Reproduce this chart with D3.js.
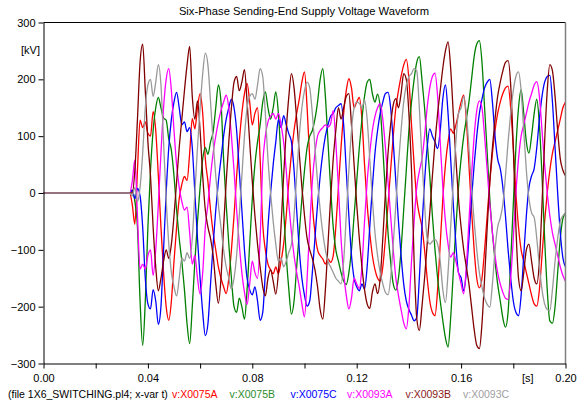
<!DOCTYPE html>
<html>
<head>
<meta charset="utf-8">
<script src="https://cdn.jsdelivr.net/npm/d3@7"></script>
<style>
  body { margin: 0; background: #fff; }
  svg text { font-family: "Liberation Sans", Arial, sans-serif; }
</style>
</head>
<body>
<svg id="chart" width="578" height="401"></svg>
<script>
// Sampled waveforms: one value every millisecond from 33 ms to 200 ms.
// Before switching (t = 0 .. 33 ms) every phase sits at 0 kV.
const tStart = 0.033;
const tStep = 0.001;
const preSwitchValue = 0;

const seriesNames = ["v:X0075A", "v:X0075B", "v:X0075C", "v:X0093A", "v:X0093B", "v:X0093C"];
const seriesColors = ["#ff0000", "#008000", "#0000ff", "#ff00ff", "#800000", "#999999"];
const legendColors = ["#ff0000", "#2e8b2e", "#0000ff", "#ff00ff", "#8b1a1a", "#a0a0a0"];

const vX0075A = [
  0, -20, -55, 40, 128, 115, 125, 105, 100, 143,
  110, 30, -60, -140, -200, -224, -190, -120, -60, -10,
  15, 29, 22, 70, 131, 113, 150, 175, 140, 60,
  20, -30, -70, -100, -130, -150, -165, -177, -150, -100,
  -40, 30, 90, 140, 175, 193, 160, 120, 140, 150,
  60, -55, -100, -125, -135, -142, -130, -142, -120, -90,
  -40, 20, 70, 110, 140, 165, 195, 213, 150, 60,
  -20, -70, -100, -110, -116, -125, -116, -122, -110, -60,
  10, 80, 140, 180, 201, 185, 150, 160, 168, 130,
  50, -20, -70, -110, -135, -150, -155, -130, -80, -20,
  40, 100, 150, 180, 205, 225, 235, 200, 120, 50,
  -10, -38, -60, -100, -150, -190, -210, -216, -170, -90,
  -10, 50, 90, 113, 105, 120, 140, 160, 172, 130,
  50, -30, -100, -150, -167, -150, -100, -40, 20, 70,
  110, 140, 160, 175, 185, 188, 150, 80, 0, -60,
  -100, -120, -140, -160, -180, -195, -199, -170, -110, -50,
  0, 40, 70, 90, 110, 130, 150, 160
];

const vX0075B = [
  0, 5, -15, -60, -190, -268, -190, -60, 40, 110,
  150, 168, 150, 132, 128, 95, 75, 30, -30, -80,
  -120, -170, -230, -265, -200, -120, -50, 10, 60, 80,
  68, 90, 108, 150, 190, 160, 60, -20, -90, -150,
  -200, -210, -185, -200, -222, -170, -90, -10, 50, 90,
  120, 160, 178, 150, 130, 150, 178, 140, 60, -30,
  -110, -170, -213, -190, -130, -70, -10, 40, 80, 100,
  110, 130, 160, 200, 219, 170, 90, 10, -60, -100,
  -120, -140, -155, -161, -140, -100, -40, 20, 80, 130,
  170, 195, 200, 175, 160, 174, 150, 80, 0, -70,
  -120, -160, -171, -150, -100, -30, 40, 110, 160, 200,
  230, 240, 200, 150, 90, 30, -40, -100, -150, -190,
  -225, -255, -271, -220, -140, -60, 10, 60, 100, 130,
  160, 200, 240, 262, 268, 230, 150, 70, -10, -70,
  -120, -160, -190, -220, -236, -210, -120, -20, 80, 150,
  182, 140, 90, 70, 100, 140, 165, 120, 30, -80,
  -170, -225, -229, -200, -140, -80, -45, -35
];

const vX0075C = [
  0, 5, -10, 8, -5, -60, -150, -195, -204, -170,
  -190, -231, -200, -100, 0, 80, 130, 160, 177, 150,
  120, 125, 108, 115, 80, 0, -80, -150, -210, -251,
  -230, -160, -90, -30, 20, 60, 100, 130, 150, 165,
  150, 110, 40, -30, -100, -150, -170, -179, -165, -190,
  -224, -210, -140, -60, 0, 50, 90, 129, 115, 136,
  120, 104, 90, 40, -30, -100, -150, -180, -199, -190,
  -140, -80, -20, 30, 70, 100, 120, 135, 140, 150,
  154, 157, 120, 40, -40, -110, -150, -165, -172, -160,
  -169, -130, -60, 10, 70, 110, 140, 160, 175, 177,
  150, 90, 20, -50, -110, -160, -190, -205, -215, -225,
  -219, -150, -60, 20, 80, 113, 100, 90, 78, 110,
  166, 190, 140, 60, -20, -90, -140, -149, -172, -140,
  -80, -10, 50, 100, 140, 165, 185, 195, 200, 160,
  100, 60, 43, 10, -40, -100, -150, -190, -210, -216,
  -180, -110, -40, 10, 30, 43, 80, 130, 170, 195,
  205, 207, 160, 80, 0, -70, -114, -130
];

const vX0093A = [
  0, 20, 58, -40, -134, -125, -134, -110, -100, -145,
  -100, -20, 70, 150, 200, 219, 180, 110, 50, 10,
  -15, -30, -25, -70, -125, -110, -150, -178, -140, -60,
  -20, 30, 70, 100, 125, 145, 160, 172, 150, 100,
  40, -30, -90, -140, -175, -196, -160, -120, -140, -150,
  -80, 50, 100, 125, 135, 140, 130, 140, 120, 90,
  40, -20, -70, -110, -140, -165, -195, -218, -150, -60,
  20, 70, 100, 110, 115, 120, 116, 122, 145, 90,
  10, -80, -140, -180, -204, -185, -150, -160, -168, -130,
  -50, 20, 70, 110, 135, 150, 157, 130, 80, 20,
  -40, -100, -150, -180, -205, -228, -239, -200, -120, -50,
  10, 38, 60, 100, 150, 185, 205, 211, 170, 90,
  10, -50, -90, -113, -105, -120, -140, -160, -177, -130,
  -50, 30, 100, 145, 162, 150, 100, 40, -20, -70,
  -110, -140, -160, -175, -185, -187, -150, -80, 0, 60,
  100, 120, 140, 160, 175, 190, 196, 170, 110, 50,
  0, -40, -70, -90, -110, -130, -145, -155
];

const vX0093B = [
  0, 0, 40, 130, 230, 262, 180, 90, 30, -60,
  -130, -172, -150, -120, -100, -115, -90, -40, 20, 80,
  130, 180, 225, 258, 170, 130, 162, 110, 30, -30,
  -60, -80, -110, -160, -194, -150, -60, 20, 90, 150,
  195, 205, 180, 195, 217, 160, 90, 20, -40, -90,
  -130, -165, -181, -150, -135, -155, -178, -140, -60, 30,
  110, 170, 210, 185, 130, 70, 10, -40, -80, -100,
  -115, -135, -165, -205, -222, -170, -90, -10, 60, 110,
  150, 130, 150, 170, 175, 120, 50, -20, -80, -130,
  -170, -195, -203, -175, -160, -177, -150, -80, 0, 70,
  120, 155, 166, 150, 175, 210, 200, 140, 40, -120,
  -220, -242, -200, -150, -90, -35, 30, 90, 140, 180,
  220, 250, 266, 220, 140, 60, -10, -60, -100, -130,
  -160, -200, -240, -268, -274, -230, -150, -60, 20, 80,
  130, 170, 195, 215, 230, 233, 190, 80, -60, -150,
  -172, -140, -100, -90, -120, -150, -160, -120, -20, 90,
  180, 226, 215, 170, 110, 60, 40, 30
];

const vX0093C = [
  0, -5, 10, -15, 10, 70, 150, 190, 200, 170,
  195, 226, 190, 90, -10, -90, -140, -165, -181, -150,
  -114, -120, -105, -115, -80, 0, 80, 150, 210, 246,
  225, 160, 90, 30, -20, -60, -100, -130, -150, -169,
  -150, -110, -40, 30, 100, 150, 170, 175, 165, 190,
  219, 205, 140, 60, 0, -50, -90, -120, -114, -130,
  -120, -104, -90, -40, 30, 100, 150, 180, 195, 185,
  140, 80, 20, -30, -70, -100, -120, -130, -140, -150,
  -155, -160, -120, -40, 40, 110, 150, 160, 158, 150,
  164, 130, 60, -10, -70, -110, -140, -160, -175, -179,
  -150, -90, -20, 50, 110, 160, 190, 205, 210, 219,
  215, 150, 60, -20, -80, -90, -85, -82, -90, -120,
  -170, -193, -140, -60, 20, 90, 140, 150, 170, 140,
  80, 10, -50, -100, -140, -165, -185, -196, -201, -160,
  -100, -60, -44, -20, 30, 90, 140, 180, 205, 213,
  180, 110, 40, -10, -35, -43, -80, -130, -170, -195,
  -205, -207, -170, -120, -80, -50, -40, -35
];

const seriesValues = [vX0075A, vX0075B, vX0075C, vX0093A, vX0093B, vX0093C];

const xTickValues = [0, 0.02, 0.04, 0.06, 0.08, 0.10, 0.12, 0.14, 0.16, 0.18, 0.20];
const xLabelValues = [0, 0.04, 0.08, 0.12, 0.16, 0.20];
const yTickValues = [-300, -200, -100, 0, 100, 200, 300];

const titleText = "Six-Phase Sending-End Supply Voltage Waveform";
const fileNote = "(file 1X6_SWITCHING.pl4; x-var t)";

// ---- layout ----
const svg = d3.select("#chart");
const plotLeft = 43.5, plotRight = 565.5, plotTop = 22.5, plotBottom = 363.5;

const x = d3.scaleLinear().domain([0, 0.2]).range([plotLeft, plotRight]);
const y = d3.scaleLinear().domain([-300, 300]).range([plotBottom, plotTop]);

// title
svg.append("text")
  .attr("x", 304).attr("y", 15)
  .attr("text-anchor", "middle")
  .attr("font-size", 11.2)
  .attr("fill", "#000")
  .text(titleText);

// curves, clipped to the plot frame
svg.append("defs").append("clipPath").attr("id", "plotClip")
  .append("rect").attr("x", plotLeft).attr("y", plotTop)
  .attr("width", plotRight - plotLeft).attr("height", plotBottom - plotTop);

const line = d3.line()
  .x(d => x(d[0]))
  .y(d => y(d[1]))
  .curve(d3.curveMonotoneX);
const plot = svg.append("g").attr("clip-path", "url(#plotClip)");

seriesValues.forEach((vals, k) => {
  const pts = [[0, preSwitchValue]].concat(vals.map((v, i) => [tStart + i * tStep, v]));
  plot.append("path")
    .datum(pts)
    .attr("fill", "none")
    .attr("stroke", seriesColors[k])
    .attr("stroke-width", 1.3)
    .attr("stroke-linejoin", "round")
    .attr("d", line);
});

// frame: top edge dark, right edge grey
svg.append("line").attr("x1", plotLeft).attr("x2", plotRight).attr("y1", plotTop).attr("y2", plotTop)
  .attr("stroke", "#000").attr("stroke-width", 1);
svg.append("line").attr("x1", plotRight).attr("x2", plotRight).attr("y1", plotTop).attr("y2", plotBottom)
  .attr("stroke", "#808080").attr("stroke-width", 1.5);

// y axis
const yAxis = svg.append("g")
  .attr("transform", `translate(${plotLeft},0)`)
  .call(d3.axisLeft(y).tickValues(yTickValues).tickSize(5).tickSizeOuter(0).tickPadding(3)
    .tickFormat(d3.format("d")));
yAxis.selectAll("text").attr("font-size", 11).attr("fill", "#000")
  .attr("font-family", "Liberation Sans, Arial, sans-serif");
yAxis.selectAll("line, path").attr("stroke", "#000");

// x axis
const fmt = d3.format(".2f");
const xAxis = svg.append("g")
  .attr("transform", `translate(0,${plotBottom})`)
  .call(d3.axisBottom(x).tickValues(xTickValues).tickSize(5).tickSizeOuter(0).tickPadding(6)
    .tickFormat(d => xLabelValues.some(v => Math.abs(v - d) < 1e-9) ? fmt(d) : ""));
xAxis.selectAll("text").attr("font-size", 11).attr("fill", "#000")
  .attr("font-family", "Liberation Sans, Arial, sans-serif");
xAxis.selectAll("line, path").attr("stroke", "#000");

// units
svg.append("text").attr("x", 21).attr("y", 54).attr("font-size", 11).text("[kV]");
svg.append("text").attr("x", 522).attr("y", 382).attr("font-size", 11).text("[s]");

// legend row
svg.append("text").attr("x", 8).attr("y", 398).attr("font-size", 10.5).attr("fill", "#000").text(fileNote);
const legendX = [172, 229.5, 290.5, 347, 405.5, 463];
seriesNames.forEach((name, k) => {
  svg.append("text")
    .attr("x", legendX[k]).attr("y", 398)
    .attr("font-size", 10.5)
    .attr("fill", legendColors[k])
    .text(name);
});
</script>
</body>
</html>
